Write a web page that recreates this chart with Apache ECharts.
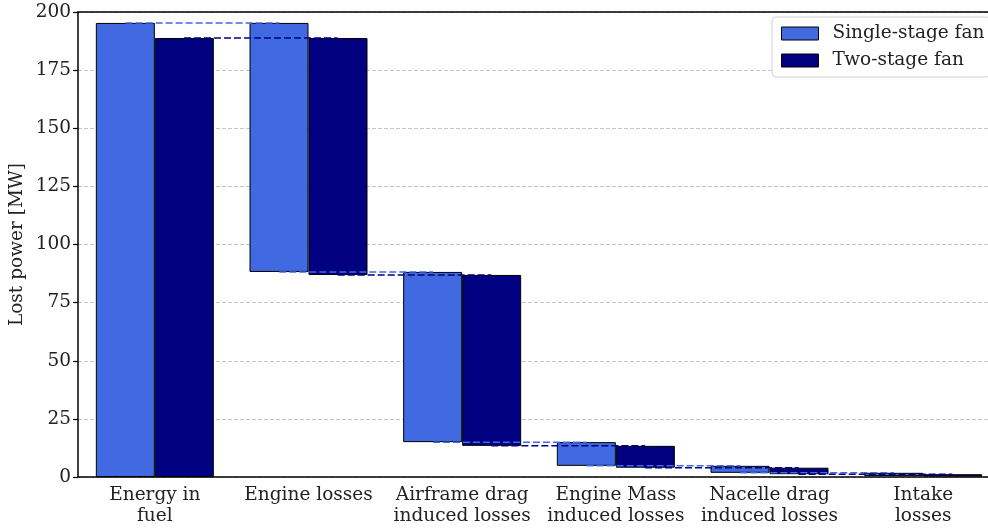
<!DOCTYPE html>
<html>
<head>
<meta charset="utf-8">
<script src="https://cdn.jsdelivr.net/npm/echarts@6/dist/echarts.min.js"></script>
<style>
  html, body { margin: 0; padding: 0; background: #fff; }
  #chart { width: 988px; height: 529px; }
</style>
</head>
<body>
<div id="chart"></div>
<script>
// categories on the x axis
const categories = ['Energy in\nfuel', 'Engine losses', 'Airframe drag\ninduced losses',
  'Engine Mass\ninduced losses', 'Nacelle drag\ninduced losses', 'Intake\nlosses'];
// power left after each step [MW]
const singleLevel = [195.3, 88.2, 15.0, 4.8, 1.8, 0.4];
const twoLevel = [188.8, 86.9, 13.4, 4.0, 1.2, 0.2];
const yTicks = [0, 200, 25];

const font = 'DejaVu Serif';
const fs = 18.5;

// bar from previous level down to current one (first bar from 0)
function bases(levels) {
  return levels.map((v, i) => i === 0 ? 0 : v);
}
function heights(levels) {
  return levels.map((v, i) => i === 0 ? v : levels[i - 1] - v);
}
// dashed connectors from bar i to bar i+1 at level i
function connectors(levels, off) {
  const d = [];
  for (let i = 0; i < levels.length - 1; i++) {
    d.push([i + off, levels[i]], [i + 1 + off, levels[i]], null);
  }
  return d;
}

const chart = echarts.init(document.getElementById('chart'));
chart.setOption({
  animation: false,
  textStyle: { fontFamily: font },
  grid: { left: 78, right: -12, top: 12, bottom: 52, outerBoundsMode: 'none', containLabel: false },
  legend: {
    data: ['Single-stage fan', 'Two-stage fan'],
    orient: 'vertical',
    left: 772, top: 17,
    icon: 'rect',
    itemWidth: 37, itemHeight: 13, itemGap: 8,
    padding: [7, 6, 7, 9],
    backgroundColor: '#fff',
    borderColor: '#d0d0d0', borderWidth: 1, borderRadius: 4,
    textStyle: { fontFamily: font, fontSize: fs, color: '#222', padding: [0, 0, 0, 9] },
    itemStyle: { borderColor: '#000', borderWidth: 1 }
  },
  xAxis: [{
    type: 'category',
    data: categories,
    axisLine: { lineStyle: { color: '#000', width: 1.5 } },
    axisTick: { alignWithLabel: true, length: 5, lineStyle: { color: '#000', width: 1.2 } },
    axisLabel: { interval: 0, fontFamily: font, fontSize: fs, color: '#222', lineHeight: 21, margin: 8 },
    splitLine: { show: false }
  }, {
    type: 'value', position: 'top', min: -0.5, max: 5.5,
    axisLine: { show: true, onZero: false, lineStyle: { color: '#000', width: 1.5 } },
    axisTick: { show: false }, axisLabel: { show: false }, splitLine: { show: false }
  }],
  yAxis: {
    type: 'value',
    min: yTicks[0], max: yTicks[1], interval: yTicks[2],
    name: 'Lost power [MW]',
    nameLocation: 'middle', nameGap: 51, nameRotate: 90, nameMoveOverlap: false,
    nameTextStyle: { fontFamily: font, fontSize: fs, color: '#222' },
    axisLine: { show: true, onZero: false, lineStyle: { color: '#000', width: 1.5 } },
    axisTick: { show: true, length: 5, lineStyle: { color: '#000', width: 1.2 } },
    axisLabel: { fontFamily: font, fontSize: fs, color: '#222', margin: 7 },
    splitLine: { lineStyle: { color: '#b8b8b8', type: [4, 2], width: 0.8 } }
  },
  series: [
    { type: 'bar', stack: 's', data: bases(singleLevel), barWidth: 59, barGap: '0%',
      itemStyle: { color: 'transparent' }, silent: true },
    { name: 'Single-stage fan', type: 'bar', stack: 's', data: heights(singleLevel), barWidth: 59,
      itemStyle: { color: '#4169E1', borderColor: '#000', borderWidth: 1 } },
    { type: 'bar', stack: 't', data: bases(twoLevel), barWidth: 59, barGap: '0%',
      itemStyle: { color: 'transparent' }, silent: true },
    { name: 'Two-stage fan', type: 'bar', stack: 't', data: heights(twoLevel), barWidth: 59,
      itemStyle: { color: '#000080', borderColor: '#000', borderWidth: 1 } },
    { type: 'line', xAxisIndex: 1, data: connectors(singleLevel, -0.19), symbol: 'none', z: 5,
      connectNulls: false, lineStyle: { color: '#4169E1', width: 1.5, type: [7, 3] } },
    { type: 'line', xAxisIndex: 1, data: connectors(twoLevel, 0.19), symbol: 'none', z: 5,
      connectNulls: false, lineStyle: { color: '#000080', width: 1.5, type: [7, 3] } }
  ]
});
</script>
</body>
</html>
